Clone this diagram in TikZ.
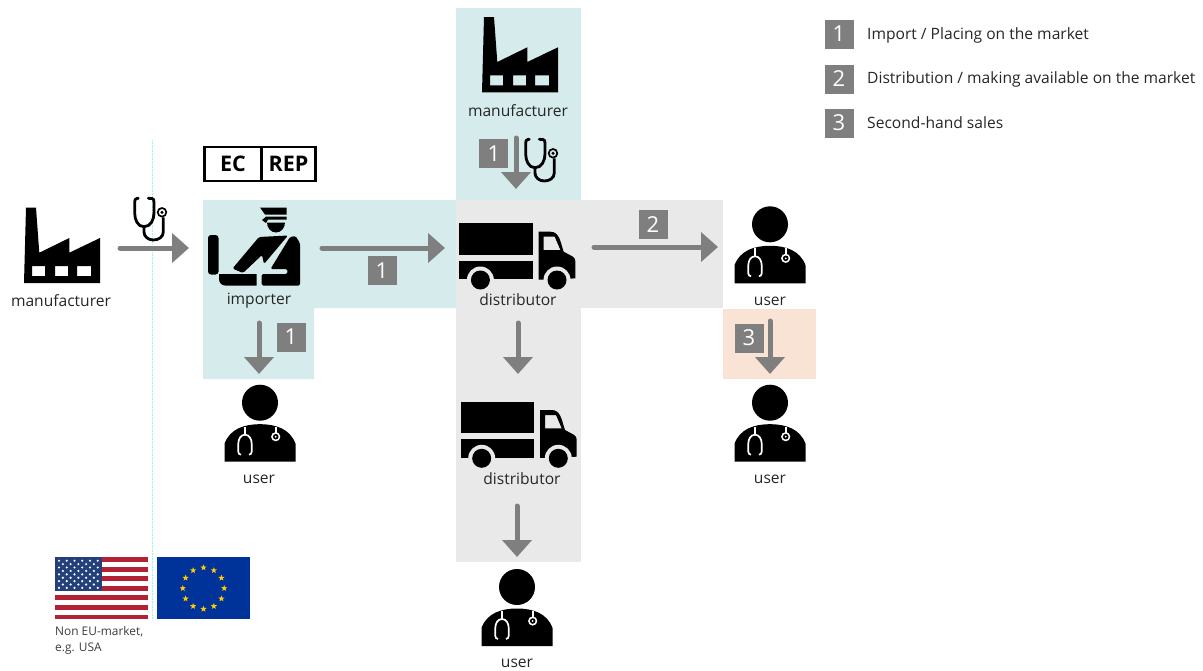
\documentclass[tikz,border=0pt]{standalone}
\usepackage{fontspec}
\setmainfont{Open Sans}
\usetikzlibrary{arrows.meta}
\usetikzlibrary{shapes.geometric}
\definecolor{tealbg}{HTML}{D6EBEB}
\definecolor{greybg}{HTML}{E9E9E9}
\definecolor{orangebg}{HTML}{F8E3D5}
\definecolor{flowgrey}{HTML}{7F7F7F}
\definecolor{labelgrey}{HTML}{262626}
\definecolor{usred}{HTML}{B22234}
\definecolor{usblue}{HTML}{24407A}
\definecolor{eublue}{HTML}{003399}
\definecolor{eugold}{HTML}{FFCC00}
\tikzset{>=latex}
\tikzset{
    flow/.style={draw=flowgrey,line width=5pt,line cap=round,-{Triangle[width=29pt,length=17pt]}},
    numbox/.style={fill=flowgrey,text=white,minimum size=29pt,inner sep=0pt,font=\fontsize{22}{22}\selectfont},
    label/.style={text=labelgrey,inner sep=0pt,font=\fontsize{15.6}{17}\selectfont},
    legend/.style={label,anchor=west},
    repbox/.style={draw=black,line width=2.6pt,minimum height=34pt,inner sep=0pt,font=\fontsize{21.5}{22}\selectfont\bfseries},
    pics/factory/.style={code={
        \fill[black,even odd rule] (0,75.3) -- (2,0) -- (12,0) -- (15.3,45) -- (45.3,30.3) -- (45.3,45)
            -- (76,30.3) -- (76,75.3) -- cycle
            (8,58.3) rectangle (21,68.3) (31,58.3) rectangle (44,68.3) (53,58.3) rectangle (67,68.3);
    }},
    pics/truck/.style={code={
        \fill[black] (0,0) rectangle (73.6,31.6);
        \fill[black] (0,37.3) rectangle (73.6,56);
        \fill[black,even odd rule] (79.3,56.3) -- (79.3,8.3) -- (91,8.3) to[out=0,in=110] (104.3,28.3)
            -- (113,33) to[out=-30,in=90] (116,38) -- (116,55) -- cycle
            (84.3,13.3) -- (95.3,13.3) -- (101,26.6) -- (84.3,26.6) -- cycle;
        \fill[greybg] (21,56.6) circle (13.5) (97.6,56.6) circle (13.5);
        \fill[black] (21,56.6) circle (9.5) (97.6,56.6) circle (9.5);
    }},
    pics/doctor/.style={code={
        \fill[black] (0,0) circle (18);
        \fill[black] (-35.5,59) -- (-35.5,41) to[out=70,in=180] (0,21.5) to[out=0,in=110] (35.5,41)
            -- (35.5,59) -- cycle;
        \draw[white,line width=1.7pt] (-15,24) -- (-15,32);
        \draw[white,line width=1.7pt] (-19,52) to[out=180,in=-90] (-21.7,49) -- (-21.7,41)
            to[out=90,in=180] (-15,32) to[out=0,in=90] (-8.3,41) -- (-8.3,49) to[out=-90,in=0] (-11,52);
        \draw[white,line width=1.7pt] (15.7,24) -- (15.7,30);
        \fill[white] (15.7,34) circle (4.6);
        \fill[black] (15.7,34) circle (2.8);
        \fill[white] (15.7,34) circle (1);
    }},
    pics/scope/.style={code={
        \draw[black,line width=2.8pt,line cap=round] (5.3,1.3) -- (3.8,1.5) to[out=180,in=90] (1.7,5) -- (1.7,16)
            to[out=-90,in=180] (11,29.7) to[out=0,in=-90] (21,16) -- (21,5) to[out=90,in=0] (19,1.5) -- (15.3,1.3);
        \draw[black,line width=2.8pt] (11,29.7) -- (11,35) to[out=-90,in=180] (20.3,43)
            to[out=0,in=-90] (30.3,35) -- (30.3,20.3);
        \draw[black,line width=1.7pt] (29,15.3) circle (4.3);
        \fill[black] (29,15.3) circle (1.7);
    }},
    pics/officer/.style={code={
        % Cap, visor and face.
        \fill[black] (60,7.5) -- (86.7,7.5) -- (86.7,14.5) -- (65,14.5) -- cycle;
        \fill[black] (62,20) -- (66,16.7) -- (86.7,16.7) -- (86.7,19.5) -- (68,19.5) -- (66,23) -- cycle;
        \fill[black] (67,22.5) -- (85,22.5) to[out=-90,in=0] (76,32.5) to[out=180,in=-90] (67,22.5);
        % Torso, sash side and desk.
        \fill[black,rounded corners=1.5pt] (59,37) -- (88,35.5) -- (64,64) -- (62,55) -- (43,73)
            -- (32.5,68.5) -- cycle;
        \fill[black,rounded corners=1.5pt] (90,37) -- (95.5,36) -- (100,43) -- (100,85.5) -- (61.7,85.5) -- (61.7,74)
            -- (87.3,74) -- (87.3,69) -- (70.5,69) -- cycle;
        \fill[black,rounded corners=3pt] (8,35) rectangle (18.5,74.5);
        \fill[black] (19,74) -- (56.5,74) -- (56.5,85.5) -- (25,85.5) to[out=180,in=-90] (19,79) -- cycle;
    }}
}
\begin{document}
\begin{tikzpicture}[x=1pt,y=-1pt]
    \useasboundingbox (0,0) rectangle (1203,670);
    % Draw the coloured market regions.
    \fill[tealbg] (203,200) -- (456,200) -- (456,308) -- (314,308) -- (314,379) -- (203,379) -- cycle;
    \fill[tealbg] (456,8) rectangle (581,200);
    \fill[greybg] (456,200) rectangle (581,562);
    \fill[greybg] (581,200) rectangle (723,308);
    \fill[orangebg] (723,309) rectangle (816,379);
    % Draw the market border.
    \draw[tealbg!70!cyan,line width=0.6pt,densely dotted] (152.5,140) -- (152.5,620);

    % Draw the left manufacturer and importer.
    \pic (factoryA) at (24,207.7) {factory};
    \node[label] (manufacturerA) at (61,301) {manufacturer};
    \pic (officerA) at (200,200) {officer};
    \node[label] (importerA) at (259,301) {importer};
    \node[repbox,minimum width=57pt] (ecbox) at (233,164) {EC};
    \node[repbox,minimum width=54.5pt] (repbox) at (288.5,164) {REP};

    % Draw the top manufacturer.
    \pic (factoryB) at (482,17) {factory};
    \node[label] (manufacturerB) at (518,111) {manufacturer};

    % Draw the distributors.
    \pic (truckA) at (459.4,223.4) {truck};
    \node[label] (distributorA) at (518,300) {distributor};
    \pic (truckB) at (460.7,401.7) {truck};
    \node[label] (distributorB) at (522,479) {distributor};

    % Draw the users.
    \pic (doctorA) at (260,402.7) {doctor};
    \node[label] (userA) at (259,479) {user};
    \pic (doctorB) at (770,224.3) {doctor};
    \node[label] (userB) at (770,301) {user};
    \pic (doctorC) at (770,402.7) {doctor};
    \node[label] (userC) at (770,479) {user};
    \pic (doctorD) at (517,587) {doctor};
    \node[label] (userD) at (517,663) {user};

    % Name the ends of the flow arrows.
    \coordinate (factoryAout) at (120,248);
    \coordinate (officerAin) at (189,248);
    \coordinate (officerAout) at (322,248);
    \coordinate (truckAin) at (445,248);
    \coordinate (officerAdown) at (259,323);
    \coordinate (doctorAin) at (259,374);
    \coordinate (factoryBout) at (516,138);
    \coordinate (truckAtop) at (516,189);
    \coordinate (truckAout) at (594,247);
    \coordinate (doctorBin) at (718,247);
    \coordinate (truckAdown) at (518,323);
    \coordinate (truckBin) at (518,374);
    \coordinate (truckBdown) at (517,506);
    \coordinate (doctorDin) at (517,557);
    \coordinate (doctorBdown) at (770,321);
    \coordinate (doctorCin) at (770,374);

    % Draw the flow arrows.
    \draw[flow] (factoryAout) -- (officerAin);
    \draw[flow] (officerAout) -- (truckAin);
    \draw[flow] (officerAdown) -- (doctorAin);
    \draw[flow] (factoryBout) -- (truckAtop);
    \draw[flow] (truckAout) -- (doctorBin);
    \draw[flow] (truckAdown) -- (truckBin);
    \draw[flow] (truckBdown) -- (doctorDin);
    \draw[flow] (doctorBdown) -- (doctorCin);

    % Draw the stethoscopes.
    \pic (scopeA) at (133,197) {scope};
    \pic (scopeB) at (524,138) {scope};

    % Draw the numbers on the arrows.
    \node[numbox] (numImport) at (382,270.5) {1};
    \node[numbox] (numUser) at (291,337) {1};
    \node[numbox] (numTop) at (493.8,153.5) {1};
    \node[numbox] (numDist) at (653,224.5) {2};
    \node[numbox] (numSecond) at (749,338) {3};

    % Draw the legend.
    \node[numbox] (legOne) at (839,34) {1};
    \node[legend] (legOneText) at (867,35) {Import / Placing on the market};
    \node[numbox] (legTwo) at (839,79) {2};
    \node[legend] (legTwoText) at (867,79) {Distribution / making available on the market};
    \node[numbox] (legThree) at (839,123) {3};
    \node[legend] (legThreeText) at (867,123) {Second-hand sales};

    % Draw the US flag.
    \fill[white] (55,557.3) rectangle (148,619.3);
    \foreach \i in {0,...,6}
        \fill[usred] (55,557.3+9.54*\i) rectangle (148,562.07+9.54*\i);
    \fill[usblue] (55,557.3) rectangle (102,590.7);
    \foreach \r in {0,2,4,6,8}
        \foreach \c in {0,...,5}
            \fill[white] (59+7.75*\c,560.7+3.4*\r) circle (1.2);
    \foreach \r in {1,3,5,7}
        \foreach \c in {0,...,4}
            \fill[white] (62.9+7.75*\c,560.7+3.4*\r) circle (1.2);

    % Draw the EU flag.
    \fill[eublue] (157,557.3) rectangle (250,619.3);
    \foreach \i in {1,...,12}
        \node[star,star points=5,star point ratio=2.4,fill=eugold,inner sep=0pt,minimum size=6.5pt] (euStar\i)
            at ({203.5+20.7*cos(30*\i)},{588.3+20.7*sin(30*\i)}) {};

    \node[label,anchor=west,align=left,text=labelgrey!90!white,font=\fontsize{11.9}{16}\selectfont] (nonEu) at (55,640)
        {Non EU-market,\\e.g. USA};
\end{tikzpicture}
\end{document}
